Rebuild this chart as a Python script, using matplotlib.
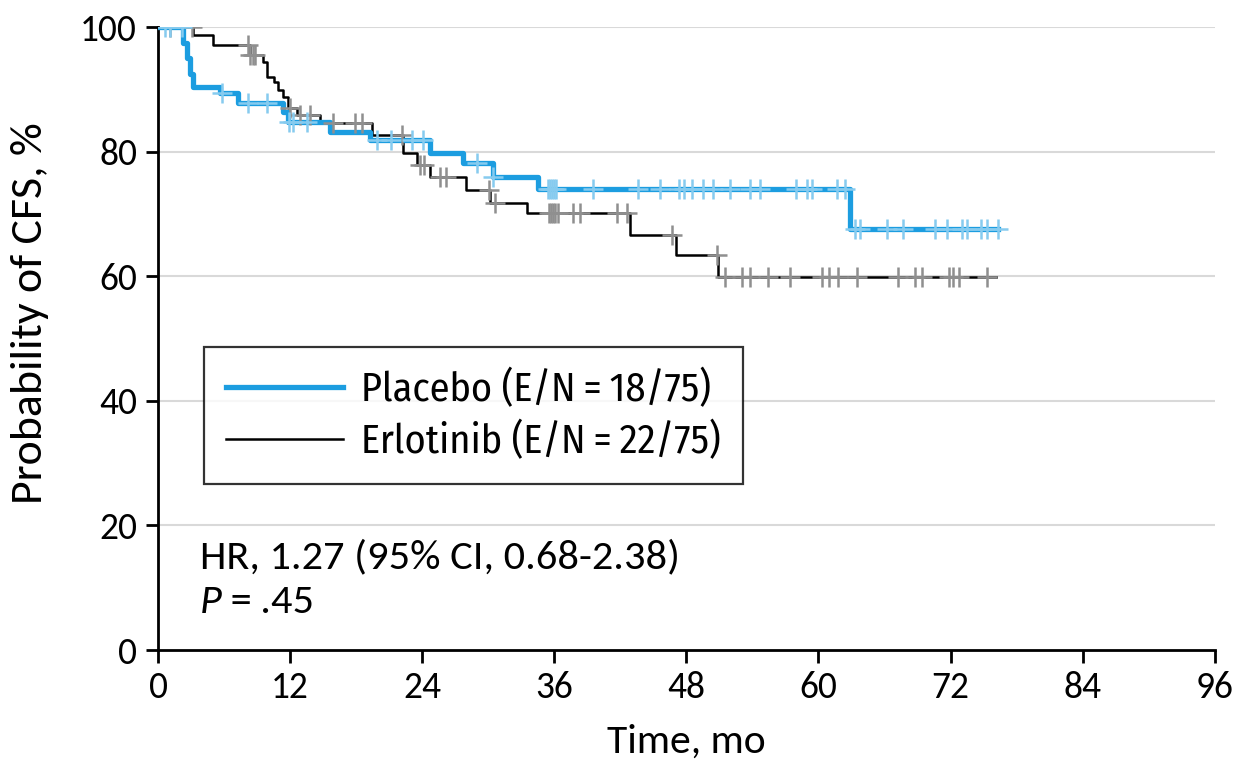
import numpy as np
import matplotlib
matplotlib.use("Agg")
import matplotlib.pyplot as plt
from matplotlib.lines import Line2D

main_font = ['Carlito', 'Liberation Sans', 'DejaVu Sans']
legend_font = ['Fira Sans Condensed', 'Liberation Sans', 'DejaVu Sans']
plt.rcParams['font.family'] = main_font

# Kaplan-Meier curves (times in months, survival in %)
placebo_t = [0, 2.3, 2.6, 2.9, 3.2, 5.6, 7.3, 11.4, 11.8, 15.6, 19.3, 24.7, 27.7, 30.4, 34.5, 62.9]
placebo_s = [100, 97.5, 95.0, 92.5, 90.4, 89.4, 87.8, 86.3, 84.7, 83.2, 81.9, 79.8, 78.2, 75.9, 74.0, 67.5]
placebo_end = 76.3
placebo_cens = [0.6, 1.1, 2.2, 5.8, 8.2, 9.9, 11.9, 12.3, 13.5, 19.9, 21.2, 23.1, 24.1, 29.0, 30.4,
                35.4, 35.6, 35.8, 36.0, 36.2, 39.5, 43.6, 45.6, 47.3, 47.8, 48.5, 49.5, 50.4, 52.0,
                53.8, 54.7, 58.0, 59.0, 59.4, 61.7, 62.4, 63.3, 63.8, 66.2, 67.7, 70.6, 71.7,
                73.0, 73.5, 74.8, 75.3, 76.3]

erlotinib_t = [0, 3.2, 5.0, 8.4, 9.5, 9.9, 10.5, 10.9, 11.4, 11.8, 12.6, 14.7, 19.4, 22.3, 23.5,
               24.7, 28.0, 30.2, 33.5, 42.9, 47.1, 50.9]
erlotinib_s = [100, 98.7, 97.1, 95.5, 94.4, 92.0, 91.2, 89.9, 88.8, 87.0, 85.9, 84.6, 82.7, 79.8,
               77.8, 75.9, 73.8, 71.7, 70.1, 66.6, 63.4, 59.9]
erlotinib_end = 76.1
erlotinib_cens = [1.1, 3.1, 8.2, 8.4, 8.6, 8.8, 12.0, 12.9, 13.8, 15.9, 17.9, 18.5, 22.2, 23.8,
                  24.2, 25.6, 26.2, 30.1, 30.6, 35.5, 35.7, 35.9, 36.1, 36.3, 37.7, 38.3, 41.7,
                  42.6, 46.7, 50.8, 51.5, 53.1, 53.8, 55.4, 57.4, 60.3, 61.0, 61.8, 63.5, 67.2,
                  68.8, 69.4, 71.9, 72.2, 72.8, 75.3]

labels = ['Placebo (E/N\u2009=\u200918/75)', 'Erlotinib (E/N\u2009=\u200922/75)']
hr_text = 'HR, 1.27 (95% CI, 0.68-2.38)'
p_text = '\u2009=\u2009.45'

blue = '#1c9de0'
blue_light = '#86cbef'
gray = '#8f8f8f'


def step_at(times, surv, t):
    idx = np.searchsorted(times, t, side='right') - 1
    return np.array(surv)[idx]


fig = plt.figure(figsize=(12.55, 7.72), dpi=100)
ax = fig.add_axes([0.1259, 0.158, 0.842, 0.807])

for y in [20, 40, 60, 80, 100]:
    ax.axhline(y, color='#d9d9d9', lw=1.5, zorder=0)

# curves
ax.step(placebo_t + [placebo_end], placebo_s + [placebo_s[-1]], where='post',
        color=blue, lw=3.8, zorder=3)
ax.step(erlotinib_t + [erlotinib_end], erlotinib_s + [erlotinib_s[-1]], where='post',
        color='black', lw=1.8, zorder=2)

# censor marks
ax.plot(placebo_cens, step_at(placebo_t, placebo_s, placebo_cens), ls='none', marker='+',
        ms=14, mew=1.8, color=blue_light, zorder=4)
ax.plot(erlotinib_cens, step_at(erlotinib_t, erlotinib_s, erlotinib_cens), ls='none', marker='+',
        ms=14, mew=1.8, color=gray, zorder=3)

ax.set_xlim(0, 96)
ax.set_ylim(0, 100)
ax.set_xticks(np.arange(0, 97, 12))
ax.set_yticks(np.arange(0, 101, 20))
ax.spines['top'].set_visible(False)
ax.spines['right'].set_visible(False)
for s in ['left', 'bottom']:
    ax.spines[s].set_linewidth(2)
ax.tick_params(axis='both', length=9, width=2, labelsize=27, direction='out')
ax.tick_params(axis='y', pad=6)
ax.tick_params(axis='x', pad=6)
ax.set_xlabel('Time, mo', fontsize=30, labelpad=14)
ax.set_ylabel('Probability of CFS, %', fontsize=33)
ax.yaxis.set_label_coords(-0.103, 0.54)

handles = [Line2D([], [], color=blue, lw=3.8), Line2D([], [], color='black', lw=1.8)]
leg = ax.legend(handles, labels, loc='upper left', bbox_to_anchor=(0.0435, 0.486),
                borderaxespad=0, prop={'family': legend_font, 'size': 29}, frameon=True,
                fancybox=False, handlelength=2.9, borderpad=0.55, labelspacing=0.3,
                handletextpad=0.45)
leg.get_frame().set_edgecolor('black')
leg.get_frame().set_linewidth(1.6)

ax.text(0.04, 0.149, hr_text, transform=ax.transAxes, fontsize=30.5, va='center', ha='left')
tp = ax.text(0.04, 0.077, 'P', transform=ax.transAxes, fontsize=30.5, va='center', ha='left',
             style='italic')
ax.annotate(p_text, xy=(1, 0), xycoords=tp, fontsize=30.5, va='bottom', ha='left')

fig.savefig('out.png', dpi=100)
